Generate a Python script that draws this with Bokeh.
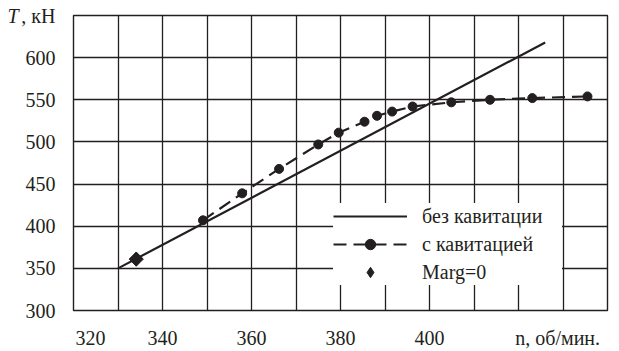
from bokeh.plotting import figure
from bokeh.models import Range1d, FixedTicker, Legend, LegendItem, LinearAxis
from bokeh.embed import file_html
from bokeh.resources import INLINE

# --- data ---
n_ideal = [330, 426]                      # без кавитации (straight line)
T_ideal = [350, 618]
n_cav = [349.1, 357.9, 366.2, 375.0, 379.6, 385.4, 388.2, 391.6, 396.2, 404.9, 413.6, 423.1, 435.5]
T_cav = [407, 439, 468, 497, 511, 524, 531, 536, 542, 547, 550, 552, 554]
n_marg = [334.1]
T_marg = [361]

x_tick_pos = [323.8, 340, 360, 380, 400, 428.8]
x_tick_labels = ["320", "340", "360", "380", "400", "n, об/мин."]
y_ticks = [300, 350, 400, 450, 500, 550, 600, 650]
y_tick_labels = ["300", "350", "400", "450", "500", "550", "600", ", кН"]
y_title_italic = "T"
x_grid = [320, 330, 340, 350, 360, 370, 380, 390, 400, 410, 420, 430, 440]
y_grid = [300, 350, 400, 450, 500, 550, 600, 650]
labels = ["без кавитации", "с кавитацией", "Marg=0"]

INK = "#231f20"
FONT = "Liberation Serif, DejaVu Serif, serif"
FS = "20px"

p = figure(width=619, height=351,
           x_range=Range1d(320, 440), y_range=Range1d(300, 650),
           output_backend="svg", toolbar_location=None,
           min_border_left=73, min_border_right=12,
           min_border_top=15, min_border_bottom=38)

p.background_fill_color = "white"
p.border_fill_color = "white"
p.outline_line_color = INK
p.outline_line_width = 1.4
p.outline_line_alpha = 1

p.xgrid.ticker = FixedTicker(ticks=x_grid)
p.ygrid.ticker = FixedTicker(ticks=y_grid)
for g in (p.xgrid, p.ygrid):
    g.grid_line_color = INK
    g.grid_line_width = 1.3
    g.grid_line_alpha = 1


def style_axis(ax):
    ax.axis_line_color = None
    ax.major_tick_line_color = None
    ax.minor_tick_line_color = None
    ax.major_tick_out = 0
    ax.major_tick_in = 0
    ax.minor_tick_out = 0
    ax.minor_tick_in = 0
    ax.major_label_text_font = FONT
    ax.major_label_text_font_size = FS
    ax.major_label_text_color = INK


xa = p.xaxis[0]
style_axis(xa)
xa.ticker = FixedTicker(ticks=x_tick_pos)
xa.major_label_overrides = dict(zip(x_tick_pos, x_tick_labels))
xa.major_label_standoff = 16

ya = p.yaxis[0]
style_axis(ya)
ya.ticker = FixedTicker(ticks=y_ticks)
ya.major_label_overrides = dict(zip(y_ticks, y_tick_labels))
ya.major_label_standoff = 18

# outer left axis carrying the italic "T" of the axis title
ya2 = LinearAxis(ticker=FixedTicker(ticks=[y_ticks[-1]]),
                 major_label_overrides={y_ticks[-1]: y_title_italic})
style_axis(ya2)
ya2.major_label_text_font_style = "italic"
ya2.major_label_standoff = 0
p.add_layout(ya2, "left")

r1 = p.line(n_ideal, T_ideal, line_width=2.2, line_color=INK)
r2 = p.line(n_cav, T_cav, line_width=2.2, line_color=INK, line_dash="13 7")
r3 = p.scatter(n_cav, T_cav, size=9, fill_color=INK, line_color=INK)
r5 = p.scatter(n_marg, T_marg, marker="diamond", size=14,
               fill_color=INK, line_color=INK)
r4 = p.scatter(n_marg, T_marg, marker="square", angle=0.785, size=10,
               fill_color=INK, line_color=INK)

legend = Legend(items=[LegendItem(label=labels[0], renderers=[r1]),
                       LegendItem(label=labels[1], renderers=[r2, r3]),
                       LegendItem(label=labels[2], renderers=[r5])],
                location=(260, 25))
legend.border_line_color = None
legend.background_fill_color = "white"
legend.background_fill_alpha = 1
legend.padding = 5
legend.margin = 0
legend.spacing = 2
legend.glyph_width = 74
legend.glyph_height = 26
legend.label_height = 20
legend.label_width = 140
legend.label_standoff = 15
legend.label_text_font = FONT
legend.label_text_font_size = FS
legend.label_text_color = INK
p.add_layout(legend)

open("out.html", "w").write(file_html(p, INLINE))
